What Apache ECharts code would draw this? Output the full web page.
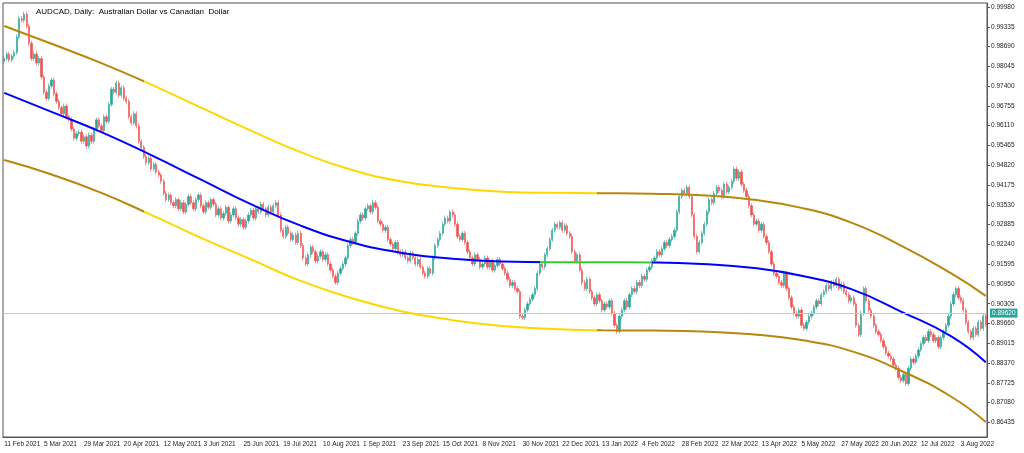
<!DOCTYPE html>
<html>
<head>
<meta charset="utf-8">
<script src="https://cdn.jsdelivr.net/npm/echarts@6/dist/echarts.min.js"></script>
<style>
html,body{margin:0;padding:0;background:#fff;}
#main{width:1024px;height:453px;}
</style>
</head>
<body>
<div id="main"></div>
<script>
// daily closes, in price * 10000
var closes = [
9830,9845,9825,9838,9850, 9900,9960, 9955,9975,9935, 9880,9830, 9845,9815,9830,
9770,9720,9700, 9740,9760,9715, 9690,9670,9650,9675,9640,9630, 9600,9570,9585,
9590,9560,9575,9545,9580,9560, 9600,9630,9610,9595,9640,9625, 9680,9730,9720,
9750,9710,9735,9700,9690, 9640,9620,9650,9610, 9560,9540, 9510,9490,9505,9470,9485,9460,
9450,9430, 9390,9370,9385,9360, 9350,9370,9340,9360,9330,9355,9380,9360,9340,9370,9385,9350,
9330,9360,9345,9370,9355,9320, 9340,9310,9325,9345,9300,9320,9340,9310,
9290,9305,9280,9300,9320,9335,9310,9340, 9330,9355,9340,9320,9345,9330,9350,9360,9320,
9270,9250,9280,9260,9240, 9255,9230,9260,9220, 9180,9160,
9190,9215,9200,9170,9185,9200,9175,9190,9160,9140, 9120,9100,9130,9145,9160,9180,
9220,9240,9230,9260, 9300,9320,9310,9340, 9350,9330,9360,9345, 9300,9290,9270,9280,
9240,9225,9210,9230,9200,9190, 9200,9180,9170,9195,9180,9160,9175,9150, 9130,9120,9145,9130,
9180,9220,9240,9260, 9290,9310,9300,9330,9320,9290, 9250,9240,9260,9230,
9200,9180,9160,9190,9175,9150, 9160,9180,9150,9170,9140,9155,9175,9160,9145,9130,
9110,9090,9100,9080,9070, 8990,8985, 9010,9030,9045,9060,9080,
9130,9160,9150,9190,9210,9240, 9270,9290,9280,9295,9270,9285,9260,9250,
9200,9170,9190,9140, 9100,9080,9110,9070, 9050,9030,9060,9040,9010,9030,9020,9040,9000,
8960,8940, 8990,9010,9040,9020,9060, 9080,9070,9100,9090,9120,9110,9140,9150,
9170,9180,9200,9190,9210,9230,9220,9240,9250,9270, 9330,9380,9400,9390,9410,9380,
9320,9250,9200,9230, 9260,9290,9330,9370,9360, 9390,9410,9400,9380,9420,9395,9410,9430,
9470,9440,9460,9420,9400,9380, 9350,9320,9290,9300,9270,9290,9250,9230,
9200,9160,9130,9120,9100,9090,9130,9080, 9050,9020,9000,8990,9010,8960, 8950,8970,
8990,9000,9020,9040,9030,9060, 9070,9090,9080,9100,9090,9110,9080,9095,
9070,9060,9040,9050,9030, 8960,8930, 9000,9080, 9040,9010,8990, 8960,8940,8930,8910,
8890,8870,8860,8850,8830,8820, 8790,8780,8800,8770, 8820,8850,8840,8860,
8880,8900,8920,8910,8940,8930,8910,8920, 8890,8920,8940,8960,
8990,9030,9060,9080,9050,9040, 9010,8970,8940,8920,8950, 8930,8970,8950,8990,8962
];
var firstOpen = 9820;

// regression channel, read at these bar indexes
var chanIdx   = [0,19,39,59,79,99,119,139,159,180,200,220,240,260,280,300,320,340,360,380,394];
var chanMid   = [9718,9656,9590,9515,9435,9355,9285,9232,9197,9177,9168,9166,9166,9165,9160,9148,9122,9078,9005,8925,8840];
var chanUpper = [9936,9878,9815,9745,9670,9595,9525,9468,9430,9408,9396,9392,9391,9389,9384,9370,9343,9295,9220,9130,9056];
var chanLower = [9499,9452,9392,9320,9245,9175,9105,9050,9007,8977,8958,8948,8944,8943,8940,8931,8912,8876,8812,8728,8645];

var lastPrice = 0.8962;
var priceTicks = [0.99980,0.99335,0.98690,0.98045,0.97400,0.96755,0.96110,0.95465,0.94820,0.94175,0.93530,
  0.92885,0.92240,0.91595,0.90950,0.90305,0.89660,0.89015,0.88370,0.87725,0.87080,0.86435];

var months = ['Jan','Feb','Mar','Apr','May','Jun','Jul','Aug','Sep','Oct','Nov','Dec'];
var dates = [];
var d = new Date(2021, 1, 11);
while (dates.length < closes.length) {
	if (d.getDay() != 0 && d.getDay() != 6)
		dates.push(d.getDate() + ' ' + months[d.getMonth()] + ' ' + d.getFullYear());
	d.setDate(d.getDate() + 1);
}

var candles = [];
for (var i = 0; i < closes.length; i++) {
	var o = (i == 0 ? firstOpen : closes[i-1]) / 10000;
	var c = closes[i] / 10000;
	candles.push([o, c, Math.min(o, c) - 0.0008, Math.max(o, c) + 0.0008]);
}
function pairs(vals) {
	return chanIdx.map(function(x, k){ return [x, vals[k] / 10000]; });
}

var brown = '#b8860b', gold = '#ffd700';
var chart = echarts.init(document.getElementById('main'));
var font = 'Liberation Sans Narrow, Liberation Sans';
chart.setOption({
	backgroundColor: '#fff',
	animation: false,
	title: {
		text: 'AUDCAD, Daily:  Australian Dollar vs Canadian  Dollar',
		left: 31, top: 3,
		textStyle: {fontSize: 8, fontWeight: 'normal', color: '#000', fontFamily: 'Liberation Sans'}
	},
	grid: {left: 3, right: 37, top: 3, bottom: 16, show: true, borderColor: '#555', borderWidth: 1},
	xAxis: {
		type: 'category',
		data: dates,
		axisLine: {lineStyle: {color: '#555'}},
		axisTick: {interval: 15, length: 3, lineStyle: {color: '#555'}},
		axisLabel: {interval: 15, fontSize: 6.5, color: '#222', fontFamily: font, align: 'left', margin: 4},
		splitLine: {show: false}
	},
	yAxis: {
		type: 'value',
		position: 'right',
		min: 0.8596, max: 1.0011,
		axisLine: {show: true, lineStyle: {color: '#555'}},
		axisTick: {show: true, customValues: priceTicks, length: 3, lineStyle: {color: '#555'}},
		axisLabel: {customValues: priceTicks, fontSize: 6.5, color: '#222', fontFamily: font, margin: 4,
			formatter: function(v){ return v.toFixed(5); }},
		splitLine: {show: false}
	},
	visualMap: [
		{show: false, type: 'piecewise', seriesIndex: [1, 3], dimension: 0,
		 pieces: [{lt: 56, color: brown}, {gte: 56, lt: 238, color: gold}, {gte: 238, color: brown}]},
		{show: false, type: 'piecewise', seriesIndex: 2, dimension: 0,
		 pieces: [{lt: 215, color: '#0000ff'}, {gte: 215, lt: 260, color: '#32cd32'}, {gte: 260, color: '#0000ff'}]}
	],
	series: [{
		type: 'candlestick',
		data: candles,
		barWidth: 1.8,
		itemStyle: {color: '#26a69a', color0: '#ef5350', borderColor: '#26a69a', borderColor0: '#ef5350', borderWidth: 0.6},
		markLine: {
			silent: true, symbol: 'none',
			lineStyle: {color: '#9fd8cf', type: 'solid', width: 1},
			label: {position: 'end', formatter: lastPrice.toFixed(5), backgroundColor: '#26a69a',
				color: '#fff', fontSize: 6.5, padding: [1, 2], distance: 3, fontFamily: font},
			data: [{yAxis: lastPrice}]
		}
	}, {
		type: 'line', data: pairs(chanUpper), smooth: 0.5, showSymbol: false, lineStyle: {width: 2}
	}, {
		type: 'line', data: pairs(chanMid), smooth: 0.5, showSymbol: false, lineStyle: {width: 2}
	}, {
		type: 'line', data: pairs(chanLower), smooth: 0.5, showSymbol: false, lineStyle: {width: 2}
	}]
});
</script>
</body>
</html>
